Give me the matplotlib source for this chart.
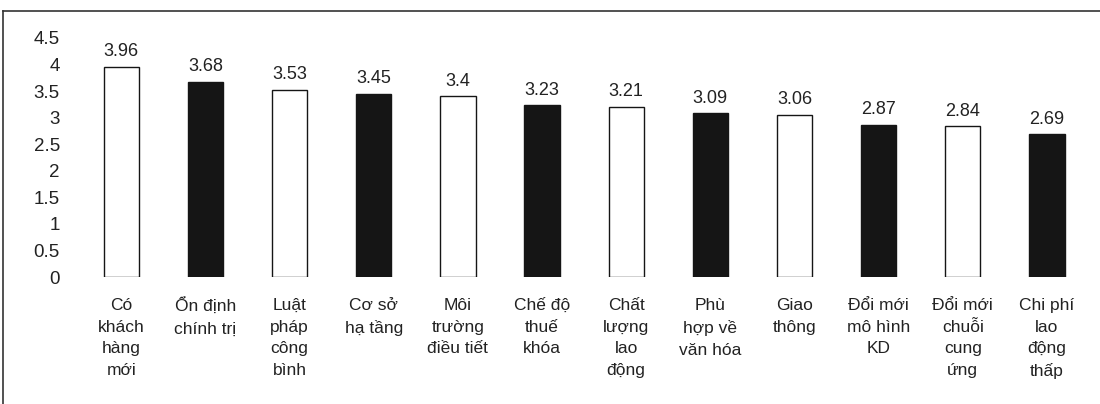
import matplotlib
matplotlib.use("Agg")
import matplotlib.pyplot as plt
from matplotlib.lines import Line2D

plt.rcParams['font.family'] = ['Liberation Sans', 'DejaVu Sans']

categories = ["Có\nkhách\nhàng\nmới", "Ổn định\nchính trị", "Luật\npháp\ncông\nbình",
              "Cơ sở\nhạ tầng", "Môi\ntrường\nđiều tiết", "Chế độ\nthuế\nkhóa",
              "Chất\nlượng\nlao\nđộng", "Phù\nhợp về\nvăn hóa", "Giao\nthông",
              "Đổi mới\nmô hình\nKD", "Đổi mới\nchuỗi\ncung\nứng", "Chi phí\nlao\nđộng\nthấp"]
values = [3.96, 3.68, 3.53, 3.45, 3.4, 3.23, 3.21, 3.09, 3.06, 2.87, 2.84, 2.69]
value_labels = ["3.96", "3.68", "3.53", "3.45", "3.4", "3.23", "3.21", "3.09", "3.06", "2.87", "2.84", "2.69"]
yticks = [0, 0.5, 1, 1.5, 2, 2.5, 3, 3.5, 4, 4.5]
ytick_labels = ["0", "0.5", "1", "1.5", "2", "2.5", "3", "3.5", "4", "4.5"]

fig = plt.figure(figsize=(11, 4.04), dpi=100)
ax = fig.add_axes([0.072, 0.314, 0.918, 0.592])

colors = ['white' if i % 2 == 0 else '#151515' for i in range(len(values))]
x = list(range(len(values)))
ax.bar(x, values, width=0.42, color=colors, edgecolor='#151515', linewidth=1.0)
for xi, v, lab in zip(x, values, value_labels):
    ax.text(xi, v + 0.12, lab, ha='center', va='bottom', fontsize=13, color='#222222')

ax.set_xlim(-0.5, len(values) - 0.5)
ax.set_ylim(0, 4.5)
ax.set_yticks(yticks)
ax.set_yticklabels(ytick_labels, fontsize=13.5, color='#222222')
ax.set_xticks(x)
ax.set_xticklabels(categories, fontsize=12.5, linespacing=1.55, color='#222222', va='top')
ax.tick_params(axis='y', length=0, pad=14)
ax.tick_params(axis='x', length=0, pad=15)
for s in ax.spines.values():
    s.set_visible(False)

# figure border lines
fig.add_artist(Line2D([0.003, 0.003], [0.0, 0.972], transform=fig.transFigure, color='#333333', lw=1.2))
fig.add_artist(Line2D([0.003, 1.0], [0.972, 0.972], transform=fig.transFigure, color='#333333', lw=1.2))

fig.savefig("out.png", dpi=100, facecolor='white')
